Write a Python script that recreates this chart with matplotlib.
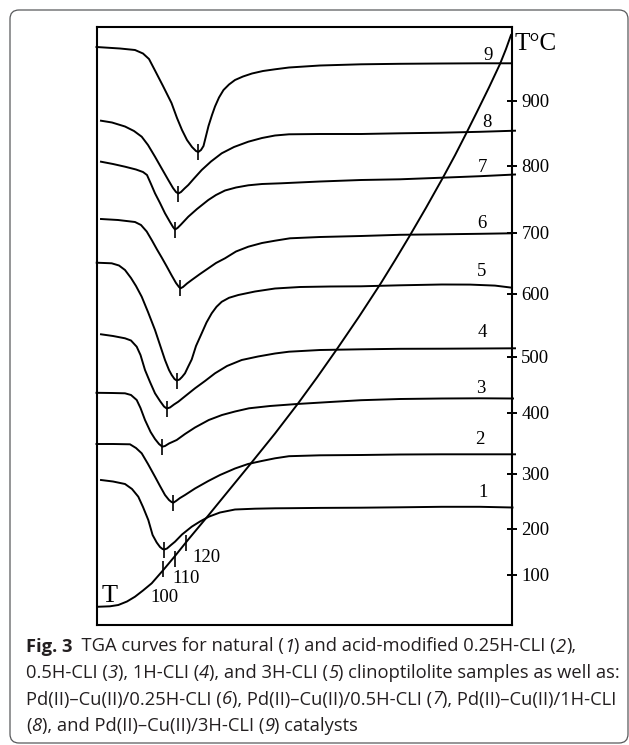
import numpy as np
import matplotlib.pyplot as plt
from matplotlib.patches import FancyBboxPatch

# ---- data (y grows downwards) ----
curve1 = [(101, 480), (113, 481.5), (125, 484), (132, 489), (138.3, 496.7), (143, 507), (148.3, 520),
          (152.6, 535), (156.7, 542.5), (160, 547), (162.5, 549), (164.3, 549.5), (167, 548.5), (171, 545),
          (175, 541.7), (182, 534.5), (191.7, 526.7), (200, 521.5), (208.8, 516.7), (220, 512.5), (235, 509.5),
          (255, 508.7), (275, 508.3), (289, 508.2), (320, 507.9), (361, 507.7), (400, 507.3), (441.8, 506.8),
          (480, 506.8), (512.5, 507.5)]
curve2 = [(96.5, 444), (113, 444), (130, 444.3), (136, 448), (141.7, 453.3), (148, 464), (155, 476.7),
          (160, 486), (165, 495), (169, 500), (171.5, 502), (173.3, 502.7), (176, 501), (180, 498), (185, 495),
          (195, 488.5), (208.3, 481), (220, 475), (235, 468.5), (248, 464), (261.7, 461), (275, 458.3),
          (289, 456.2), (320, 455.3), (361, 455), (400, 454.5), (441.8, 454.3), (480, 454.3), (515, 454.3)]
curve3 = [(96.5, 392.8), (112, 393), (125, 393.3), (131, 395), (136.7, 400), (140.5, 408), (145, 420),
          (150.6, 432), (155, 439), (159, 444), (162.3, 446.7), (165, 446), (169, 443.5), (176.7, 440),
          (185, 434), (195, 427.5), (208.8, 420), (222, 415), (235, 411.5), (249, 408.3), (270, 406),
          (297, 404), (330, 402), (361, 400.2), (400, 399), (441.8, 398.5), (480, 398.3), (513, 398.5)]
curve4 = [(101, 334.3), (113, 336), (125, 338.3), (131, 340.5), (136.7, 346.7), (140.5, 355), (145, 370),
          (150, 382), (155, 393.3), (160, 401), (164, 406.5), (166.7, 408.5), (170, 407.5), (174, 404.5),
          (178.3, 401.7), (186, 395.5), (195, 388.3), (205, 381), (215, 373.3), (227, 366), (241.7, 360),
          (258, 356.5), (275, 353.5), (289, 351.7), (320, 350), (361, 349.3), (400, 348.8), (441.8, 348.7),
          (480, 348.5), (515, 348.3)]
curve5 = [(96.7, 262.7), (111.7, 263.3), (119, 265.5), (125, 270), (131, 278), (136, 286), (141.7, 296.7),
          (148, 312), (155, 330), (160, 345), (165, 360), (169, 370), (171.7, 375), (174.5, 379),
          (176.7, 380.5), (179.5, 379.5), (182, 377), (185, 373.3), (188, 367), (191.7, 359.5), (196, 346),
          (201.7, 333.3), (206.5, 322.5), (211.7, 313.3), (216.5, 306.8), (221.7, 301.8), (229, 297.8),
          (238.3, 295), (255, 291.5), (275, 288.5), (300, 287), (330, 286.5), (361, 286.3), (400, 285.3),
          (441.8, 284.5), (470, 284.6), (495, 285.6), (512, 287.7)]
curve6 = [(101, 219), (118, 220), (135, 222), (141, 225), (146.7, 231.5), (152, 240.5), (157, 249.5),
          (161.7, 257.5), (166.5, 266), (171.7, 275.5), (176, 283), (179, 287), (180.5, 288.3), (183, 287),
          (187, 283.5), (191.7, 280), (200, 274), (208.3, 268.3), (216, 263), (225, 258.3), (236, 251.5),
          (248.3, 246.7), (262, 243), (275, 240.7), (290, 238.3), (320, 237), (361, 236), (400, 234.8),
          (441.8, 234.3), (480, 233.8), (512, 233.3)]
curve7 = [(101, 161.7), (113, 164), (125, 166.7), (136, 169.5), (143, 172), (147, 175), (151, 184),
          (155, 193.3), (160, 203), (165, 213.3), (170, 222), (173, 227), (175, 229.5), (177.5, 228),
          (181, 224.5), (188.3, 216.7), (197, 209), (208.3, 200), (216, 195), (225, 190.5), (236, 187.5),
          (248.3, 185.3), (262, 184), (281, 183.3), (320, 181.5), (361, 180), (400, 179.3), (441.8, 177.7),
          (480, 176.2), (515, 174.5)]
curve8 = [(101, 120.7), (112, 122.5), (125, 126.5), (134, 131), (141.7, 136.7), (148, 145), (155, 156.7),
          (162, 169), (168.3, 180), (173, 188), (176, 192), (178.3, 193.5), (181, 192), (184.5, 188.5),
          (188.3, 185), (194, 178.5), (201.7, 170), (211, 161.5), (221.7, 153.3), (234, 147), (248.3, 141.7),
          (262, 138), (275, 135.5), (289, 134.3), (320, 134), (361, 134), (400, 133.3), (441.8, 132.7),
          (480, 131.8), (515, 130.7)]
curve9 = [(96.5, 47), (120, 48.5), (135, 50), (143, 53.5), (149, 59), (155, 70.5), (163, 86), (171.5, 103),
          (177, 118), (182, 130), (187, 140), (192, 147), (196, 151), (198.3, 152), (201, 150), (203.5, 146),
          (206, 136), (208.5, 126), (212, 115), (215, 106.5), (219, 97.5), (223.5, 90), (229, 84.5),
          (235, 80), (243, 76.5), (252, 73.5), (263, 71), (275, 69.3), (289, 67.5), (320, 65.5),
          (361, 64.3), (400, 63.8), (441.8, 63.5), (480, 63.3), (512, 63.3)]
temp_curve = [(97, 606.8), (110, 606.3), (118.3, 605), (127, 601.5), (135, 596.7), (143, 590.5),
              (151.7, 583.3), (163.3, 570), (175, 556), (188.3, 539.5), (208.3, 515.5), (228.3, 491),
              (250, 464.5), (275, 433.5), (298, 403.5), (317, 377.5), (337, 349), (359, 316.7), (381, 283),
              (395, 260.3), (409, 237), (426, 207.8), (443, 177.5), (455, 155.3), (466, 133.8), (477, 111.8),
              (489, 87.4), (500, 64), (506, 49), (511, 35)]

curves = [curve1, curve2, curve3, curve4, curve5, curve6, curve7, curve8, curve9]
curve_names = ['1', '2', '3', '4', '5', '6', '7', '8', '9']

# minima marked with a small vertical tick
peak_x = [164.3, 173.3, 162.3, 166.7, 176.7, 180.5, 175, 178.3, 198.3]
peak_y = [549.5, 502.7, 446.7, 408.5, 380.5, 288.3, 229.5, 193.5, 152]

# temperature scale on the right
temp_tick_pos = [574.7, 528.7, 474, 412.7, 356.7, 293.5, 232.7, 166, 100.7]
temp_tick_labels = ['100', '200', '300', '400', '500', '600', '700', '800', '900']

# marks on the T curve
tmark_x = [163.3, 175.3, 186.2]
tmark_y = [569.2, 558.8, 542.5]
tmark_labels = ['100', '110', '120']

caption_lines = [
    [("Fig. 3", "bold"), ("  TGA curves for natural (", "normal"), ("1", "italic"),
     (") and acid-modified 0.25H-CLI (", "normal"), ("2", "italic"), ("),", "normal")],
    [("0.5H-CLI (", "normal"), ("3", "italic"), ("), 1H-CLI (", "normal"), ("4", "italic"),
     ("), and 3H-CLI (", "normal"), ("5", "italic"), (") clinoptilolite samples as well as:", "normal")],
    [("Pd(II)\u2013Cu(II)/0.25H-CLI (", "normal"), ("6", "italic"), ("), Pd(II)\u2013Cu(II)/0.5H-CLI (", "normal"),
     ("7", "italic"), ("), Pd(II)\u2013Cu(II)/1H-CLI", "normal")],
    [("(", "normal"), ("8", "italic"), ("), and Pd(II)\u2013Cu(II)/3H-CLI (", "normal"), ("9", "italic"),
     (") catalysts", "normal")],
]

W, H = 629, 745
serif = 'Liberation Serif'
cap_font = 'Open Sans'
cap_color = '#231f20'

fig = plt.figure(figsize=(W / 100, H / 100), dpi=100)

# background layer in pixel units: rounded box and caption
bg = fig.add_axes([0, 0, 1, 1])
bg.set_xlim(0, W)
bg.set_ylim(H, 0)
bg.axis('off')
box = FancyBboxPatch((10, 10), 618, 733, boxstyle='round,pad=0,rounding_size=9',
                     facecolor='white', edgecolor='#58595b', linewidth=0.9)
bg.add_patch(box)

# chart frame
left, right, top, bottom = 96.7, 512.0, 27.3, 625.0
ax = fig.add_axes([left / W, 1 - bottom / H, (right - left) / W, (bottom - top) / H])
ax.set_xlim(left, right)
ax.set_ylim(bottom, top)
ax.patch.set_alpha(0)
for s in ax.spines.values():
    s.set_linewidth(1.5)
ax.set_xticks([])
ax.yaxis.tick_right()
ax.set_yticks(temp_tick_pos, temp_tick_labels)
ax.tick_params(axis='y', direction='inout', length=7.5, width=1.4, pad=3.0,
               labelsize=13.5, labelfontfamily=serif)

for c in curves:
    xs = [p[0] for p in c]
    ys = [p[1] for p in c]
    ax.plot(xs, ys, color='black', lw=1.4, solid_joinstyle='round', clip_on=False)
ax.plot(peak_x, peak_y, ls='none', marker='|', ms=11, mew=1.2, color='black')

tx = [p[0] for p in temp_curve]
ty = [p[1] for p in temp_curve]
ax.plot(tx, ty, color='black', lw=1.4, solid_joinstyle='round', clip_on=False)
ax.plot(tmark_x, tmark_y, ls='none', marker='|', ms=11, mew=1.2, color='black')

# curve numbers
label_x = [483.5, 479.5, 480.5, 482.5, 481.5, 482, 482, 487, 488.3]
label_base = [497, 444, 392.7, 337, 276, 228, 171.7, 126.7, 60]
for name, lx, ly in zip(curve_names, label_x, label_base):
    ax.text(lx, ly, name, ha='center', va='baseline', fontsize=13.5, family=serif, clip_on=False)

# labels on the T curve
tlab_x = [164, 186.5, 206.5]
tlab_base = [601.7, 583.3, 562]
for lab, lx, ly in zip(tmark_labels, tlab_x, tlab_base):
    ax.text(lx, ly, lab, ha='center', va='baseline', fontsize=13.5, family=serif)
ax.text(110, 601.7, 'T', ha='center', va='baseline', fontsize=19, family=serif)
ax.text(515, 50, 'T\u00b0C', ha='left', va='baseline', fontsize=18, family=serif, clip_on=False)

# caption, drawn piece by piece so the numbers can be italic
renderer = fig.canvas.get_renderer()
cap_size = 13.2
baselines = [651.5, 678, 704.5, 731]
for line, yb in zip(caption_lines, baselines):
    x = 26
    for text, style in line:
        weight = 'bold' if style == 'bold' else 'normal'
        fstyle = 'italic' if style == 'italic' else 'normal'
        t = bg.text(x, yb, text, ha='left', va='baseline', fontsize=cap_size, family=cap_font,
                    fontweight=weight, fontstyle=fstyle, color=cap_color)
        x += t.get_window_extent(renderer).width

fig.savefig('out.png', dpi=100)
